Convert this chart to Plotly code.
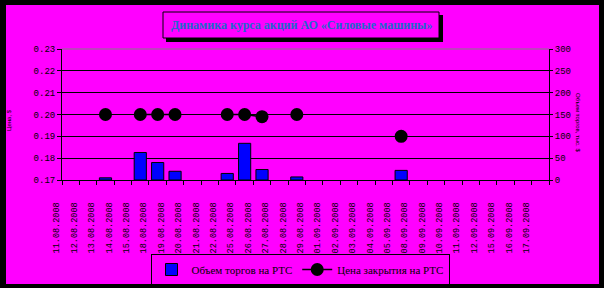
import plotly.graph_objects as go

dates = ["11.08.2008", "12.08.2008", "13.08.2008", "14.08.2008", "15.08.2008",
         "18.08.2008", "19.08.2008", "20.08.2008", "21.08.2008", "22.08.2008",
         "25.08.2008", "26.08.2008", "27.08.2008", "28.08.2008", "29.08.2008",
         "01.09.2008", "02.09.2008", "03.09.2008", "04.09.2008", "05.09.2008",
         "08.09.2008", "09.09.2008", "10.09.2008", "11.09.2008", "12.09.2008",
         "15.09.2008", "16.09.2008", "17.09.2008"]

volume = [None, None, 5, None, 63, 40, 20, None, None, 15,
          84, 24, None, 7, None, None, None, None, None, 22,
          None, None, None, None, None, None, None, None]

price = [None, None, 0.200, None, 0.200, 0.200, 0.200, None, None, 0.200,
         0.200, 0.199, None, 0.200, None, None, None, None, None, 0.190,
         None, None, None, None, None, None, None, None]

W, H = 604, 288
L, R, T, B = 62, 549, 49, 180
MAG = "#FF00FF"


def px(x):
    return (x - L) / (R - L)


def py(y):
    return (B - y) / (B - T)


fig = go.Figure()
fig.add_trace(go.Bar(
    x=dates, y=volume, name="Объем торгов на РТС", yaxis="y2",
    marker=dict(color="#0000FF", line=dict(color="black", width=1)),
    width=0.7,
))
fig.add_trace(go.Scatter(
    x=dates, y=price, name="Цена закрытия на РТС", mode="lines+markers",
    line=dict(color="black", width=1.5),
    marker=dict(color="black", size=13, symbol="circle"),
    connectgaps=False,
))

shapes = []
# outer black frame
for (x0, y0, x1, y1) in [(0, 0, 6, H), (0, 0, W, 5), (599, 0, W, H), (0, 284, W, H)]:
    shapes.append(dict(type="rect", xref="paper", yref="paper",
                       x0=px(x0), x1=px(x1), y0=py(y1), y1=py(y0),
                       fillcolor="black", line=dict(width=0), layer="above"))
# title box with shadow
shapes.append(dict(type="rect", xref="paper", yref="paper",
                   x0=px(166), x1=px(443), y0=py(42), y1=py(15),
                   fillcolor="black", line=dict(width=0), layer="above"))
shapes.append(dict(type="rect", xref="paper", yref="paper",
                   x0=px(163), x1=px(439), y0=py(38), y1=py(12),
                   fillcolor=MAG, line=dict(color="black", width=1), layer="above"))
# grey top border of plot area
shapes.append(dict(type="line", xref="paper", yref="paper",
                   x0=0, x1=1, y0=1, y1=1,
                   line=dict(color="#808080", width=1), layer="above"))

annotations = [
    dict(text="<b>Динамика курса акций АО «Силовые машины»</b>", xref="paper", yref="paper",
         x=px(301), y=py(25), xanchor="center", yanchor="middle", showarrow=False,
         font=dict(family="Liberation Serif", size=12, color="#2266CC")),
    dict(text="Цена, $", xref="paper", yref="paper", x=px(9), y=py(120),
         xanchor="center", yanchor="middle", textangle=-90, showarrow=False,
         font=dict(family="Liberation Sans", size=6, color="black")),
    dict(text="Объем торгов, тыс. $", xref="paper", yref="paper", x=px(578), y=py(122),
         xanchor="center", yanchor="middle", textangle=90, showarrow=False,
         font=dict(family="Liberation Sans", size=6, color="black")),
]

fig.update_layout(
    width=W, height=H,
    margin=dict(l=L, r=W - R, t=T, b=H - B, pad=0),
    paper_bgcolor=MAG, plot_bgcolor=MAG,
    bargap=0.3,
    shapes=shapes,
    annotations=annotations,
    legend=dict(orientation="h", xref="container", yref="container",
                x=300 / W, xanchor="center", y=1 - 254 / H, yanchor="top",
                bgcolor=MAG, bordercolor="black", borderwidth=1,
                font=dict(family="Liberation Serif", size=11, color="black"),
                itemwidth=30, traceorder="normal"),
    xaxis=dict(type="category", range=[-0.5, len(dates) - 0.5],
               showgrid=False, showline=True, linecolor="black",
               linewidth=1, ticks="outside", ticklen=4, tickcolor="black",
               tickson="boundaries", tickangle=-90, automargin=False,
               ticklabelshift=-14, ticklabelstandoff=18,
               tickfont=dict(family="Liberation Mono", size=8.5, color="black")),
    yaxis=dict(range=[0.17, 0.23], dtick=0.01, tickformat=".2f", showgrid=True,
               gridcolor="black", gridwidth=1, zeroline=False, showline=True,
               linecolor="black", linewidth=1, ticks="outside", ticklen=4,
               tickcolor="black", automargin=False,
               tickfont=dict(family="Liberation Mono", size=9, color="black")),
    yaxis2=dict(range=[0, 300], dtick=50, overlaying="y", side="right", showgrid=False,
                zeroline=False, showline=True, linecolor="black", linewidth=1,
                ticks="outside", ticklen=3, tickcolor="black", automargin=False,
                tickfont=dict(family="Liberation Mono", size=9, color="black")),
    showlegend=True,
)

fig.write_html("out.html")
